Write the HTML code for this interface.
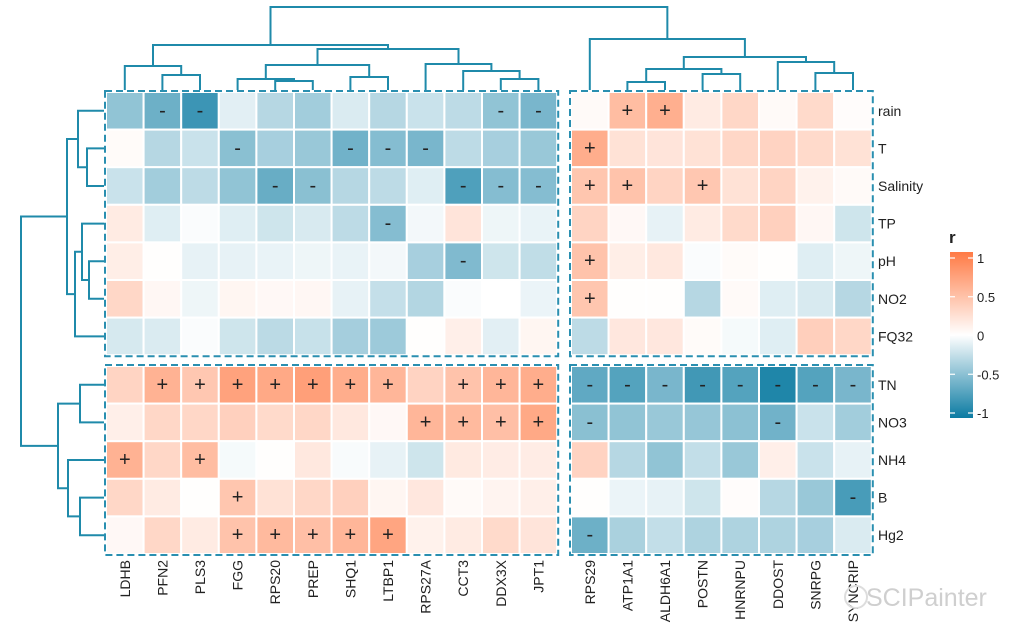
<!DOCTYPE html>
<html><head><meta charset="utf-8"><style>
html,body{margin:0;padding:0;background:#fff;}
svg{display:block;font-family:"Liberation Sans",Arial,sans-serif;}
</style></head><body>
<svg id="chart" width="1021" height="639" viewBox="0 0 1021 639"></svg>
<script>
const rowsTop = ["rain","T","Salinity","TP","pH","NO2","FQ32"];
const rowsBot = ["TN","NO3","NH4","B","Hg2"];
const colsLeft = ["LDHB","PFN2","PLS3","FGG","RPS20","PREP","SHQ1","LTBP1","RPS27A","CCT3","DDX3X","JPT1"];
const colsRight = ["RPS29","ATP1A1","ALDH6A1","POSTN","HNRNPU","DDOST","SNRPG","SYNCRIP"];
const valsTL = [
[-0.45,-0.6,-0.8,-0.12,-0.3,-0.38,-0.15,-0.3,-0.22,-0.27,-0.45,-0.55],
[0.03,-0.3,-0.22,-0.48,-0.36,-0.42,-0.58,-0.5,-0.55,-0.27,-0.36,-0.42],
[-0.22,-0.38,-0.27,-0.45,-0.62,-0.48,-0.3,-0.27,-0.13,-0.72,-0.5,-0.5],
[0.15,-0.13,-0.02,-0.13,-0.2,-0.16,-0.27,-0.5,-0.05,0.2,-0.07,-0.09],
[0.13,0.01,-0.1,-0.1,-0.09,-0.07,-0.09,-0.05,-0.36,-0.52,-0.2,-0.26],
[0.3,0.06,-0.07,0.07,0.05,0.06,-0.1,-0.24,-0.31,-0.02,0,-0.08],
[-0.17,-0.15,-0.02,-0.2,-0.28,-0.23,-0.37,-0.4,0.01,0.12,-0.12,0.07]];
const valsTR = [
[0.04,0.5,0.6,0.15,0.3,0.04,0.28,0.02],
[0.62,0.22,0.2,0.22,0.3,0.33,0.28,0.22],
[0.43,0.45,0.32,0.42,0.22,0.32,0.1,0.04],
[0.32,0.05,-0.1,0.15,0.28,0.35,0.06,-0.2],
[0.45,0.13,0.17,-0.02,0.03,0.01,-0.13,-0.07],
[0.43,0.01,0.01,-0.3,0.04,-0.13,-0.16,-0.3],
[-0.27,0.18,0.18,0.03,-0.04,-0.13,0.36,0.3]];
const valsBL = [
[0.32,0.58,0.42,0.7,0.65,0.72,0.62,0.55,0.33,0.45,0.55,0.62],
[0.12,0.3,0.3,0.35,0.28,0.3,0.17,0.05,0.55,0.52,0.48,0.65],
[0.58,0.3,0.5,-0.04,0.01,0.17,-0.03,-0.1,-0.2,0.16,0.14,0.14],
[0.3,0.15,0.01,0.43,0.22,0.3,0.35,0.07,0.18,0.04,0.08,0.12],
[0.05,0.3,0.15,0.45,0.52,0.48,0.55,0.68,0.1,0.15,0.28,0.2]];
const valsBR = [
[-0.65,-0.7,-0.55,-0.78,-0.7,-0.92,-0.7,-0.55],
[-0.48,-0.45,-0.42,-0.43,-0.47,-0.58,-0.22,-0.38],
[0.33,-0.3,-0.45,-0.25,-0.42,0.12,-0.22,-0.1],
[0.01,-0.08,-0.1,-0.2,0.02,-0.3,-0.42,-0.75],
[-0.6,-0.35,-0.25,-0.33,-0.33,-0.33,-0.36,-0.15]];
const sigTL = ["_--_______--","___-__---___","____--___---","_______-____","_________-__","____________","____________"];
const sigTR = ["_++_____","+_______","++_+____","________","+_______","+_______","________"];
const sigBL = ["_+++++++_+++","________++++","+_+_________","___+________","___+++++____"];
const sigBR = ["--------","-____-__","________","_______-","-_______"];
const legendTicks = [1,0.5,0,-0.5,-1];

const svg = document.getElementById('chart');
const NS = "http://www.w3.org/2000/svg";
function mk(tag, attrs, parent){const e=document.createElementNS(NS,tag);for(const k in attrs)e.setAttribute(k,attrs[k]);(parent||svg).appendChild(e);return e;}

const LX0=106, RX0=571, CW=37.6, TY0=92, BY0=366, RH=37.6;
function colX(block,i){return (block==="L"?LX0:RX0)+i*CW;}
function rowY(block,j){return (block==="T"?TY0:BY0)+j*RH;}
function color(v){
  v=Math.max(-1,Math.min(1,v));
  let t=Math.abs(v), c = v>=0?[255,122,69]:[11,123,162];
  const r=Math.round(255+(c[0]-255)*t),g=Math.round(255+(c[1]-255)*t),b=Math.round(255+(c[2]-255)*t);
  return `rgb(${r},${g},${b})`;
}
function drawBlock(vals,sig,cb,rb,cols){
  for(let j=0;j<vals.length;j++)for(let i=0;i<vals[j].length;i++){
    const x=colX(cb,i),y=rowY(rb,j);
    const r=mk('rect',{x:x,y:y,width:CW,height:RH,fill:color(vals[j][i]),stroke:'#fff','stroke-width':2});
    
    
    const s=sig[j][i];
    if(s==='+'||s==='-'){
      const t=mk('text',{x:x+CW/2,y:y+RH/2+6,'text-anchor':'middle','font-size':20,fill:'#222'});
      t.textContent=s;
      
      
    }
  }
  const bx=colX(cb,0)-1, by=rowY(rb,0)-1;
  const b=mk('rect',{x:bx,y:by,width:cols*CW+2,height:vals.length*RH+2,fill:'none',stroke:'#2a8fb0','stroke-width':2,'stroke-dasharray':'7,4'});
  
  
}
drawBlock(valsTL,sigTL,"L","T",12);
drawBlock(valsTR,sigTR,"R","T",8);
drawBlock(valsBL,sigBL,"L","B",12);
drawBlock(valsBR,sigBR,"R","B",8);

rowsTop.concat(rowsBot).forEach((n,k)=>{
  const y = k<7? rowY("T",k)+RH/2 : rowY("B",k-7)+RH/2;
  const t=mk('text',{x:878,y:y+5,'font-size':14,fill:'#222'});t.textContent=n;
  
  
});
colsLeft.forEach((n,i)=>{
  const x=colX("L",i)+CW/2+5;
  const t=mk('text',{x:x,y:560,'font-size':14,fill:'#222','text-anchor':'end',transform:`rotate(-90 ${x} 560)`});t.textContent=n;
  
  
});
colsRight.forEach((n,i)=>{
  const x=colX("R",i)+CW/2+5;
  const t=mk('text',{x:x,y:560,'font-size':14,fill:'#222','text-anchor':'end',transform:`rotate(-90 ${x} 560)`});t.textContent=n;
  
  
});

const dg=mk('g',{stroke:'#1f8aaa','stroke-width':2,fill:'none'});


function colC(i){return i<12?colX("L",i)+CW/2:colX("R",i-12)+CW/2;}
function rowC(k){return k<7?rowY("T",k)+RH/2:rowY("B",k-7)+RH/2;}
const topTree=[7,[45,[66,0,[75,1,2]],[49,[65,[79,3,[81,4,5]],[77,6,7]],[64,8,[71,9,[79,10,11]]]]],
  [39,12,[57,[69,[82,13,14],[74,15,16]],[62,17,[73,18,19]]]]];
function drawTop(n){
  if(typeof n==='number')return {x:colC(n),y:90};
  const a=drawTop(n[1]),b=drawTop(n[2]),h=n[0];
  mk('path',{d:`M${a.x},${a.y}V${h}H${b.x}V${b.y}`},dg);
  return {x:(a.x+b.x)/2,y:h};
}
drawTop(topTree);
const leftTree=[21,[67,[78,0,[87,1,2]],[75,[82,3,[89,4,5]],6]],[58,[80,7,8],[68,9,[80,10,11]]]];
function drawLeft(n){
  if(typeof n==='number')return {x:104,y:rowC(n)};
  const a=drawLeft(n[1]),b=drawLeft(n[2]),h=n[0];
  mk('path',{d:`M${a.x},${a.y}H${h}V${b.y}H${b.x}`},dg);
  return {x:h,y:(a.y+b.y)/2};
}
drawLeft(leftTree);

const defs=mk('defs',{});
const lg=mk('linearGradient',{id:'lg',x1:0,y1:0,x2:0,y2:1},defs);
[1,0.5,0,-0.5,-1].forEach((v,i)=>mk('stop',{offset:(i*25)+'%','stop-color':color(v)},lg));
const lt=mk('text',{x:949,y:243,'font-size':17,'font-weight':'bold',fill:'#222'});lt.textContent='r';


const lb=mk('rect',{x:950,y:252,width:23,height:166,fill:'url(#lg)'});


legendTicks.forEach(v=>{
  const y=258+(1-v)/2*155;
  mk('line',{x1:950,x2:955,y1:y,y2:y,stroke:'#fff','stroke-width':1.2});
  mk('line',{x1:968,x2:973,y1:y,y2:y,stroke:'#fff','stroke-width':1.2});
  const t=mk('text',{x:977,y:y+5,'font-size':13,fill:'#222'});t.textContent=String(v);
  
  
});
mk('circle',{cx:856,cy:597,r:11,fill:'none',stroke:'#ddd','stroke-width':2});
const wm=mk('text',{x:866,y:606,'font-size':25,fill:'#cfcfcf'});wm.textContent='SCIPainter';


</script>
</body></html>
